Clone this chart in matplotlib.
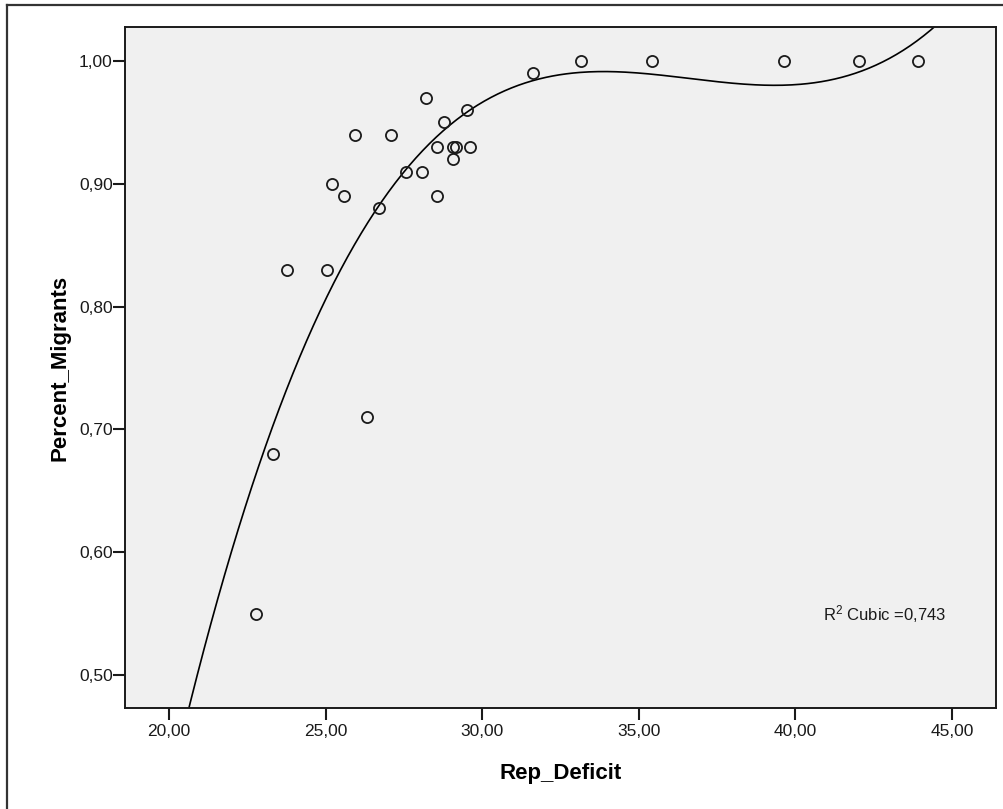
import numpy as np
import matplotlib
matplotlib.use('Agg')
import matplotlib.pyplot as plt
from matplotlib.lines import Line2D

# values
rep_deficit = [22.78, 23.33, 26.31, 23.78, 25.06, 25.22, 25.58, 25.94, 27.10,
               26.70, 27.57, 28.08, 28.57, 28.56, 28.77, 29.07, 29.17, 29.07,
               29.60, 29.51, 28.20, 31.63, 33.15, 35.41, 39.64, 42.03, 43.92]
pct_migrants = [0.55, 0.68, 0.71, 0.83, 0.83, 0.90, 0.89, 0.94, 0.94,
                0.88, 0.91, 0.91, 0.89, 0.93, 0.95, 0.93, 0.93, 0.92,
                0.93, 0.96, 0.97, 0.99, 1.00, 1.00, 1.00, 1.00, 1.00]
xticks = [20, 25, 30, 35, 40, 45]
yticks = [0.5, 0.6, 0.7, 0.8, 0.9, 1.0]
r2_label = r"R$^2$ Cubic =0,743"

plt.rcParams['font.family'] = ['Liberation Sans', 'DejaVu Sans']
plt.rcParams['mathtext.fontset'] = 'custom'
plt.rcParams['mathtext.rm'] = 'Liberation Sans'
plt.rcParams['mathtext.default'] = 'rm'

x = np.array(rep_deficit)
y = np.array(pct_migrants)
coef = np.polyfit(x, y, 3)

fig = plt.figure(figsize=(10.04, 8.09), dpi=100)
ax = fig.add_axes([0.1248, 0.1248, 0.9917 - 0.1248, 0.9666 - 0.1248])
ax.set_facecolor('#f0f0f0')

xs = np.linspace(18.0, 47.0, 400)
ax.plot(xs, np.polyval(coef, xs), color='black', lw=1.2, zorder=2)
ax.plot(x, y, 'o', ms=8, mfc='none', mec='#1a1a1a', mew=1.3, zorder=3)

ax.set_xlim(18.61, 46.39)
ax.set_ylim(0.4731, 1.0277)
ax.set_xticks(xticks)
ax.set_xticklabels([('%.2f' % t).replace('.', ',') for t in xticks])
ax.set_yticks(yticks)
ax.set_yticklabels([('%.2f' % t).replace('.', ',') for t in yticks])

for s in ax.spines.values():
    s.set_linewidth(1.4)
    s.set_color('#1a1a1a')
ax.tick_params(direction='out', length=8.5, width=1.5, color='#1a1a1a',
               labelsize=12.5, labelcolor='#1a1a1a')
ax.tick_params(axis='y', pad=0.5)
ax.tick_params(axis='x', pad=3)

ax.set_xlabel('Rep_Deficit', fontsize=16, fontweight='bold', labelpad=17)
ax.set_ylabel('Percent_Migrants', fontsize=16, fontweight='bold', labelpad=6)

ax.text(0.8016, 0.138, r2_label, transform=ax.transAxes, fontsize=12,
        va='center', ha='left', color='#1a1a1a')

# outer chart frame (cropped at right and bottom)
fig.add_artist(Line2D([7 / 1004, 7 / 1004], [0, 1 - 5 / 809],
                      transform=fig.transFigure, color='#333333', lw=1.6))
fig.add_artist(Line2D([7 / 1004, 1], [1 - 5 / 809, 1 - 5 / 809],
                      transform=fig.transFigure, color='#333333', lw=1.6))

fig.savefig('out.png', dpi=100, facecolor='white')
